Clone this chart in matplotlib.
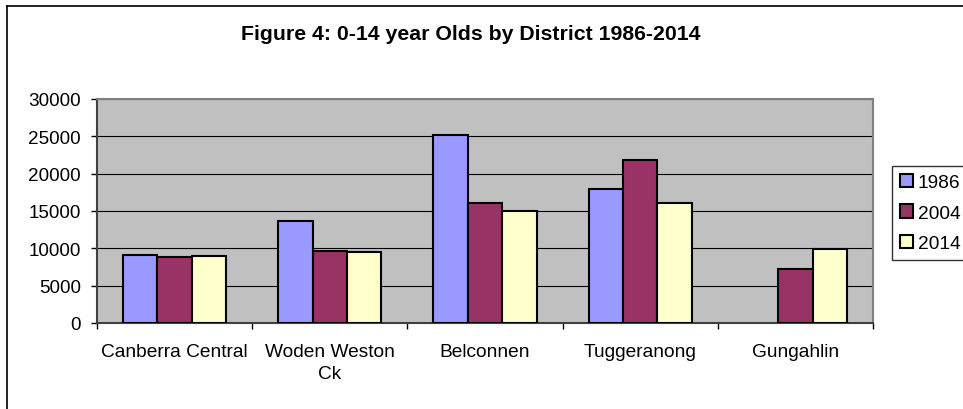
import numpy as np
import matplotlib
matplotlib.use("Agg")
import matplotlib.pyplot as plt
from matplotlib.patches import Patch
from matplotlib.lines import Line2D

districts = ["Canberra Central", "Woden Weston\nCk", "Belconnen", "Tuggeranong", "Gungahlin"]
years = ["1986", "2004", "2014"]
v1986 = [9100, 13600, 25200, 17900, np.nan]
v2004 = [8850, 9600, 16100, 21800, 7200]
v2014 = [9000, 9500, 15000, 16100, 9950]
yticks = [0, 5000, 10000, 15000, 20000, 25000, 30000]
title = "Figure 4: 0-14 year Olds by District 1986-2014"

colors = ["#9999FF", "#993366", "#FFFFCC"]
plt.rcParams["font.family"] = ["Liberation Sans", "DejaVu Sans"]

fig = plt.figure(figsize=(9.63, 4.10), dpi=100)
ax = fig.add_axes([97/963, 86/410, 776/963, 224/410])
ax.set_facecolor("#C0C0C0")

x = np.arange(len(districts))
w = 0.222
series = [v1986, v2004, v2014]
for i, (vals, c) in enumerate(zip(series, colors)):
    ax.bar(x + (i - 1) * w, vals, width=w, color=c, edgecolor="black", linewidth=1.5, zorder=3)

ax.set_xlim(-0.5, len(districts) - 0.5)
ax.set_ylim(0, 30000)
ax.set_yticks(yticks)
ax.set_yticklabels([str(t) for t in yticks])
ax.yaxis.grid(True, color="black", linewidth=0.8, zorder=1)
ax.set_axisbelow(True)

ax.set_xticks(x)
ax.set_xticklabels(districts, linespacing=1.4)
ax.set_xticks(np.arange(-0.5, len(districts), 1.0), minor=True)
ax.tick_params(axis="x", which="major", length=0, pad=14.5, labelsize=13.8)
ax.tick_params(axis="x", which="minor", length=4.5, width=1, direction="out")
ax.tick_params(axis="y", length=4.5, width=1, pad=7, labelsize=13.6)

for s in ["top", "right"]:
    ax.spines[s].set_color("#808080")
    ax.spines[s].set_linewidth(1.5)
for s in ["left", "bottom"]:
    ax.spines[s].set_color("#404040")
    ax.spines[s].set_linewidth(1.5)

fig.text(471/963, 1 - 35/410, title, ha="center", va="center", fontsize=15.3, fontweight="bold")

handles = [Patch(facecolor=c, edgecolor="black", linewidth=1.5) for c in colors]
leg = fig.legend(handles, years, loc="upper left", bbox_to_anchor=(892/963, 1 - 167/410),
                 fontsize=13.8, frameon=True, fancybox=False, shadow=False,
                 handlelength=0.7, handleheight=0.7, handletextpad=0.25,
                 borderpad=0.4, labelspacing=0.68, borderaxespad=0)
leg.get_frame().set_edgecolor("black")
leg.get_frame().set_linewidth(1.0)

fig.add_artist(Line2D([7/963, 7/963], [0, 1 - 7/410], color="black", linewidth=1.2, transform=fig.transFigure))
fig.add_artist(Line2D([7/963, 1], [1 - 7/410, 1 - 7/410], color="black", linewidth=1.2, transform=fig.transFigure))

fig.savefig("out.png", dpi=100)
